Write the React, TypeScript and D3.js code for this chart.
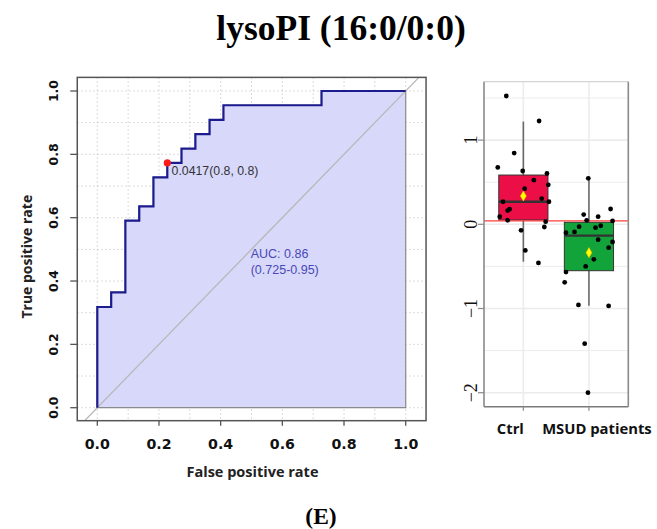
import React from 'react';
import * as d3 from 'd3';

// ---------- data ----------
const title = 'lysoPI (16:0/0:0)';
const panelLabel = '(E)';

// ROC curve corner points (vertical step first, then horizontal)
const rocFpr = [0, 0.045, 0.091, 0.136, 0.182, 0.227, 0.273, 0.318, 0.364, 0.409, 0.727, 1];
const rocTpr = [0, 0.318, 0.364, 0.591, 0.636, 0.727, 0.773, 0.818, 0.864, 0.909, 0.955, 1];
const cutoffFpr = 0.227;
const cutoffTpr = 0.773;
const cutoffLabel = '0.0417(0.8, 0.8)';
const aucLines = ['AUC: 0.86', '(0.725-0.95)'];
const rocTicks = [0, 0.2, 0.4, 0.6, 0.8, 1.0];
const rocTickLabels = ['0.0', '0.2', '0.4', '0.6', '0.8', '1.0'];
const rocGrid = [0, 0.1, 0.2, 0.3, 0.4, 0.5, 0.6, 0.7, 0.8, 0.9, 1.0];
const rocXTitle = 'False positive rate';
const rocYTitle = 'True positive rate';

const groups = ['Ctrl', 'MSUD patients'];
const ctrlValues = [1.524, 1.227, 0.846, 0.675, 0.633, 0.604, 0.524, 0.469, 0.423, 0.306, 0.268, 0.268, 0.18, 0.163, 0.09, 0.048, 0.031, -0.032, -0.071, -0.31, -0.459];
const ctrlJitter = [-0.26, 0.24, -0.14, -0.39, -0.01, 0.36, 0.16, 0.38, 0.02, 0.28, 0.39, -0.31, -0.21, -0.24, -0.36, -0.24, 0.34, 0.32, -0.035, 0.03, 0.23];
const msudValues = [0.546, 0.182, 0.115, 0.09, 0.047, 0.04, -0.028, -0.04, -0.017, -0.1, -0.091, -0.183, -0.21, -0.278, -0.416, -0.5, -0.567, -0.689, -0.958, -0.97, -1.418, -2.0];
const msudJitter = [-0.01, 0.33, -0.08, 0.14, -0.035, 0.36, -0.15, 0.1, 0.18, -0.35, -0.22, 0.14, 0.36, 0.3, 0.075, -0.05, -0.35, -0.37, -0.16, 0.3, -0.065, -0.015];
const boxLow = [-0.444, -0.967];
const boxQ1 = [0.051, -0.551];
const boxMedian = [0.268, -0.135];
const boxQ3 = [0.585, 0.024];
const boxHigh = [1.22, 0.558];
const boxMean = [0.336, -0.337];
const thresholdValue = 0.04;
const boxTicks = [-2, -1, 0, 1];
const boxTickLabels = ['\u22122', '\u22121', '0', '1'];
const boxMinor = [-1.5, -0.5, 0.5, 1.5];

// ---------- layout ----------
const W = 657;
const H = 529;
const rocXBox = [-0.065, 1.066];
const rocYBox = [-0.041, 1.043];
const boxYDomain = [-2.166, 1.694];
const groupColors = ['#ec0f47', '#12a33a'];
const labelShift = [-13, 8];

const sansBold = "'DejaVu Sans', Verdana, sans-serif";
const titleSans = "'Open Sans', 'Noto Sans', sans-serif";
const arial = "'Liberation Sans', Arial, sans-serif";
const serif = "'Liberation Serif', 'Times New Roman', serif";

export default function App() {
  // ROC scales
  const x = d3.scaleLinear().domain([0, 1]).range([97.3, 405.7]);
  const y = d3.scaleLinear().domain([0, 1]).range([407.7, 91]);
  const bx0 = x(rocXBox[0]);
  const bx1 = x(rocXBox[1]);
  const by0 = y(rocYBox[0]);
  const by1 = y(rocYBox[1]);

  const pts: [number, number][] = rocFpr.map((f, i) => [f, rocTpr[i]]);
  const line = d3
    .line<[number, number]>()
    .x((d) => x(d[0]))
    .y((d) => y(d[1]))
    .curve(d3.curveStepBefore);
  const area = d3
    .area<[number, number]>()
    .x((d) => x(d[0]))
    .y0(y(0))
    .y1((d) => y(d[1]))
    .curve(d3.curveStepBefore);

  // Box plot scales
  const yb = d3.scaleLinear().domain([0, 1]).range([224.3, 140.1]);
  const xb = d3.scalePoint<string>().domain(groups).range([484, 628.3]).padding(0.6);
  const step = xb.step();
  const boxW = step * 0.75;
  const pTop = yb(boxYDomain[1]);
  const pBot = yb(boxYDomain[0]);
  const pLeft = 484;
  const pRight = 628.3;

  const allPoints = [
    ...ctrlValues.map((v, i) => ({ g: groups[0], v, j: ctrlJitter[i] })),
    ...msudValues.map((v, i) => ({ g: groups[1], v, j: msudJitter[i] })),
  ];
  const diamond = d3.symbol().type(d3.symbolDiamond).size(30)();

  return (
    <div style={{ position: 'absolute', left: 0, top: 0 }}>
      <svg width={W} height={H} style={{ display: 'block', background: '#fff' }}>
        <defs>
          <clipPath id="rocClip">
            <rect x={bx0} y={by1} width={bx1 - bx0} height={by0 - by1} />
          </clipPath>
        </defs>

        {/* Title */}
        <text x={341} y={40} textAnchor="middle" fontFamily={serif} fontWeight="bold" fontSize={35.5} fill="#000">
          {title}
        </text>

        {/* ROC grid */}
        <g stroke="#cfcfcf" strokeWidth={1} strokeDasharray="1.5,2.5">
          {rocGrid.map((g) => (
            <line key={'gx' + g} x1={x(g)} x2={x(g)} y1={by1} y2={by0} />
          ))}
          {rocGrid.map((g) => (
            <line key={'gy' + g} x1={bx0} x2={bx1} y1={y(g)} y2={y(g)} />
          ))}
        </g>

        {/* ROC fill */}
        <path d={area(pts) + `L${x(1)},${y(0)}Z`} fill="#d8d8fa" stroke="#8a8a8a" strokeWidth={1.2} />
        {/* diagonal */}
        <line
          x1={x(rocXBox[0])}
          y1={y(rocXBox[0])}
          x2={x(rocYBox[1])}
          y2={y(rocYBox[1])}
          stroke="#b8b8b8"
          strokeWidth={1.3}
          clipPath="url(#rocClip)"
        />
        {/* ROC curve */}
        <path d={line(pts) || ''} fill="none" stroke="#1c1c8e" strokeWidth={2.2} />
        {/* cutoff point */}
        <circle cx={x(cutoffFpr)} cy={y(cutoffTpr)} r={3.6} fill="#ff1a1a" />
        <text x={x(cutoffFpr) + 4.3} y={y(cutoffTpr) + 12.5} fontFamily={arial} fontSize={12.3} fill="#333">
          {cutoffLabel}
        </text>
        {aucLines.map((t, i) => (
          <text key={t} x={x(0.5) - 0.8} y={y(0.5) + 9 + i * 16} fontFamily={arial} fontSize={12.5} fill="#4848b8">
            {t}
          </text>
        ))}

        {/* ROC box */}
        <rect x={bx0} y={by1} width={bx1 - bx0} height={by0 - by1} fill="none" stroke="#555" strokeWidth={1.5} />
        {/* ROC ticks */}
        <g stroke="#555" strokeWidth={1.3}>
          {rocTicks.map((t) => (
            <line key={'tx' + t} x1={x(t)} x2={x(t)} y1={by0} y2={by0 + 5} />
          ))}
          {rocTicks.map((t) => (
            <line key={'ty' + t} x1={bx0} x2={bx0 - 7} y1={y(t)} y2={y(t)} />
          ))}
        </g>
        {rocTicks.map((t, i) => (
          <text key={'lx' + t} x={x(t)} y={448.5} textAnchor="middle" fontFamily={sansBold} fontWeight="bold" fontSize={14.2} fill="#111">
            {rocTickLabels[i]}
          </text>
        ))}
        {rocTicks.map((t, i) => (
          <text
            key={'ly' + t}
            transform={`translate(58,${y(t)}) rotate(-90)`}
            textAnchor="middle"
            fontFamily={sansBold}
            fontWeight="bold"
            fontSize={12.5}
            fill="#111"
          >
            {rocTickLabels[i]}
          </text>
        ))}
        <text x={252.5} y={476.5} textAnchor="middle" fontFamily={titleSans} fontWeight="bold" fontSize={14.5} fill="#222">
          {rocXTitle}
        </text>
        <text
          transform={`translate(31.5,256.7) rotate(-90)`}
          textAnchor="middle"
          fontFamily={titleSans}
          fontWeight="bold"
          fontSize={14}
          fill="#222"
        >
          {rocYTitle}
        </text>

        {/* Box plot panel grid */}
        <g stroke="#ececec">
          {boxMinor.map((t) => (
            <line key={'bm' + t} x1={pLeft} x2={pRight} y1={yb(t)} y2={yb(t)} strokeWidth={1} />
          ))}
          {boxTicks.map((t) => (
            <line key={'bt' + t} x1={pLeft} x2={pRight} y1={yb(t)} y2={yb(t)} strokeWidth={1.6} />
          ))}
          {groups.map((g) => (
            <line key={'bg' + g} x1={xb(g)} x2={xb(g)} y1={pTop} y2={pBot} strokeWidth={1.6} />
          ))}
        </g>

        {/* whiskers */}
        {groups.map((g, i) => (
          <line key={'w' + g} x1={xb(g)} x2={xb(g)} y1={yb(boxHigh[i])} y2={yb(boxLow[i])} stroke="#6a6a6a" strokeWidth={1.6} />
        ))}
        {/* boxes */}
        {groups.map((g, i) => (
          <g key={'b' + g}>
            <rect
              x={(xb(g) as number) - boxW / 2}
              y={yb(boxQ3[i])}
              width={boxW}
              height={yb(boxQ1[i]) - yb(boxQ3[i])}
              fill={groupColors[i]}
              stroke="#333"
              strokeWidth={1}
            />
            <line
              x1={(xb(g) as number) - boxW / 2}
              x2={(xb(g) as number) + boxW / 2}
              y1={yb(boxMedian[i])}
              y2={yb(boxMedian[i])}
              stroke="#333"
              strokeWidth={2.4}
            />
          </g>
        ))}
        {/* threshold line */}
        <line x1={pLeft} x2={pRight} y1={yb(thresholdValue)} y2={yb(thresholdValue)} stroke="#ff3b3b" strokeWidth={1.3} />
        {/* points */}
        {allPoints.map((p, i) => (
          <circle key={'p' + i} cx={(xb(p.g) as number) + p.j * step} cy={yb(p.v)} r={2.4} fill="#000" />
        ))}
        {/* means */}
        {groups.map((g, i) => (
          <path key={'m' + g} d={diamond || ''} transform={`translate(${xb(g)},${yb(boxMean[i])})`} fill="#ffff00" stroke="#e8c000" strokeWidth={0.6} />
        ))}

        {/* panel border */}
        <line x1={pLeft} x2={pRight} y1={pTop} y2={pTop} stroke="#d4d4d4" strokeWidth={1.2} />
        <line x1={pLeft} x2={pLeft} y1={pTop} y2={pBot} stroke="#8a8a8a" strokeWidth={1.6} />
        <line x1={pRight} x2={pRight} y1={pTop} y2={pBot} stroke="#8a8a8a" strokeWidth={1.6} />
        <line x1={pLeft} x2={pRight} y1={pBot} y2={pBot} stroke="#7a7a7a" strokeWidth={1.6} />
        {/* box plot ticks */}
        <g stroke="#8a8a8a" strokeWidth={1.2}>
          {boxTicks.map((t) => (
            <line key={'bk' + t} x1={pLeft - 6} x2={pLeft} y1={yb(t)} y2={yb(t)} />
          ))}
          {groups.map((g) => (
            <line key={'gk' + g} x1={xb(g)} x2={xb(g)} y1={pBot} y2={pBot + 4} />
          ))}
        </g>
        {boxTicks.map((t, i) => (
          <text
            key={'bl' + t}
            transform={`translate(476.5,${yb(t)}) rotate(-90)`}
            textAnchor="middle"
            fontFamily={serif}
            fontSize={18}
            fill="#111"
          >
            {boxTickLabels[i]}
          </text>
        ))}
        {groups.map((g, i) => (
          <text
            key={'gl' + g}
            x={(xb(g) as number) + labelShift[i]}
            y={433.5}
            textAnchor="middle"
            fontFamily={titleSans}
            fontWeight="bold"
            fontSize={14.8}
            fill="#111"
          >
            {g}
          </text>
        ))}

        {/* panel label */}
        <text x={321} y={523.5} textAnchor="middle" fontFamily={serif} fontWeight="bold" fontSize={23.5} fill="#000">
          {panelLabel}
        </text>
      </svg>
    </div>
  );
}
